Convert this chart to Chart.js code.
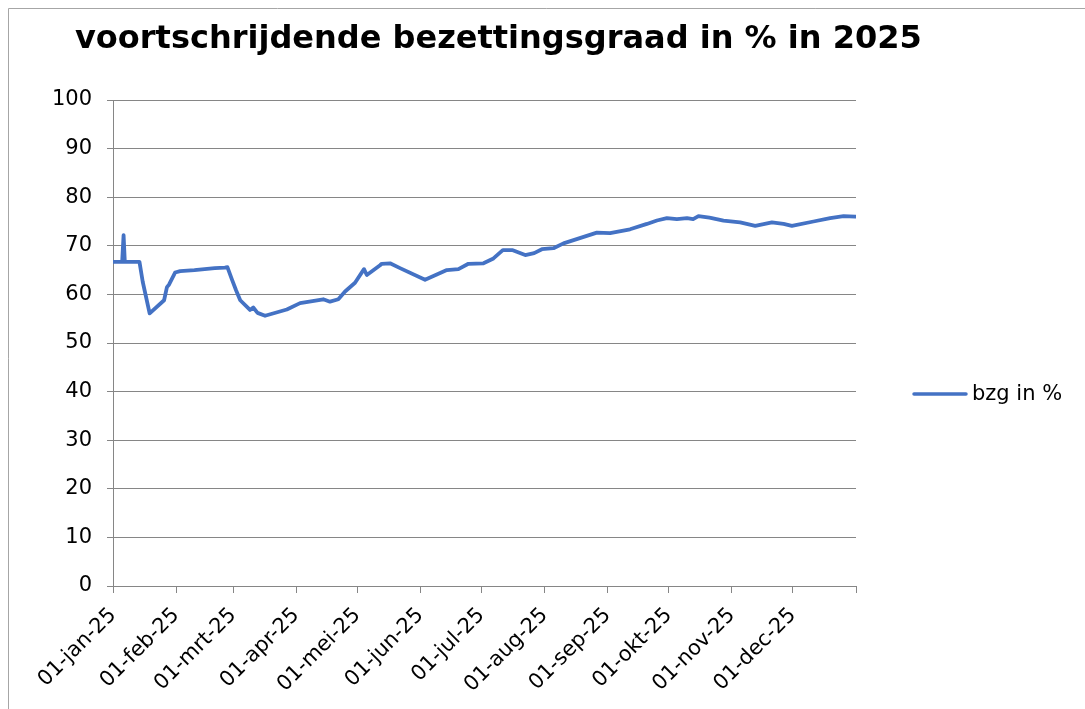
<!DOCTYPE html>
<html>
<head>
<meta charset="utf-8">
<script src="https://cdn.jsdelivr.net/npm/chart.js@4"></script>
<style>
html,body{margin:0;padding:0;background:#fff;}
#wrap{position:relative;width:1085px;height:709px;}
canvas{display:block;}
</style>
</head>
<body>
<div id="wrap"><canvas id="c" width="1085" height="709"></canvas></div>
<script>
const chartTitle = 'voortschrijdende bezettingsgraad in % in 2025';
const seriesLabel = 'bzg in %';
// day of year (0 = 1 Jan 2025)
const dayOfYear = [0,4.5,5.2,5.8,13,14.6,18,25.1,26.5,27.5,30.5,33,40,45,50,55,56.2,58.5,60.5,62.5,67.3,68.9,71,74.7,85.4,91.9,103.3,106.6,110.7,114,118.9,123.3,124.7,131.2,132,136.1,141,153.3,164,169.7,174.6,182,186.9,191.5,196.4,202.5,206.9,210.7,216.4,221.3,237.7,244.2,254,262.3,267.2,272.1,277,282,285,287.6,293,299.9,308.1,315.5,323.7,329.4,333.5,344.1,352.3,358.9,364.6];
const bzg = [66.7,66.7,72.2,66.7,66.7,62.6,56.1,58.8,61.5,62.0,64.5,64.8,65.0,65.2,65.4,65.5,65.6,63.0,60.8,58.8,56.8,57.3,56.2,55.6,56.9,58.2,59.0,58.5,59.0,60.6,62.4,65.2,64.0,66.0,66.3,66.4,65.4,63.0,65.0,65.2,66.3,66.4,67.4,69.1,69.1,68.1,68.5,69.3,69.5,70.5,72.7,72.6,73.4,74.5,75.2,75.7,75.5,75.7,75.5,76.1,75.8,75.2,74.8,74.1,74.8,74.5,74.1,75.0,75.7,76.1,76.0];
const monthStartDays = [0,31,59,90,120,151,181,212,243,273,304,334,365];
const monthLabels = ['01-jan-25','01-feb-25','01-mrt-25','01-apr-25','01-mei-25','01-jun-25','01-jul-25','01-aug-25','01-sep-25','01-okt-25','01-nov-25','01-dec-25',''];
const yTicks = [0,10,20,30,40,50,60,70,80,90,100];

const FONT = 'DejaVu Sans';
const LINE = '#4472C4';
const GRID = '#868686';

const decor = {
  id: 'decor',
  beforeDraw(chart) {
    const ctx = chart.ctx;
    ctx.save();
    ctx.fillStyle = '#fff';
    ctx.fillRect(0,0,chart.width,chart.height);
    ctx.strokeStyle = '#a6a6a6';
    ctx.lineWidth = 1;
    ctx.beginPath();
    ctx.moveTo(8.5, chart.height);
    ctx.lineTo(8.5, 8.5);
    ctx.lineTo(chart.width, 8.5);
    ctx.stroke();
    ctx.restore();
  },
  afterDraw(chart) {
    const ctx = chart.ctx;
    ctx.save();
    ctx.fillStyle = '#000';
    ctx.font = 'bold 32px "' + FONT + '"';
    ctx.textAlign = 'left';
    ctx.textBaseline = 'alphabetic';
    ctx.fillText(chartTitle, 75, 48);
    // legend
    const ly = 394;
    ctx.strokeStyle = LINE;
    ctx.lineWidth = 3.5;
    ctx.lineCap = 'round';
    ctx.beginPath();
    ctx.moveTo(914, ly);
    ctx.lineTo(966, ly);
    ctx.stroke();
    ctx.font = '21px "' + FONT + '"';
    ctx.textBaseline = 'middle';
    ctx.fillText(chart.data.datasets[0].label, 972, ly + 1);
    ctx.restore();
  }
};

new Chart(document.getElementById('c'), {
  type: 'line',
  data: {
    datasets: [{
      label: seriesLabel,
      data: dayOfYear.map((d,i) => ({x: d, y: bzg[i]})),
      borderColor: LINE,
      borderWidth: 3.8,
      pointRadius: 0,
      tension: 0,
      fill: false,
      borderJoinStyle: 'round',
      borderCapStyle: 'round'
    }]
  },
  options: {
    responsive: false,
    animation: false,
    devicePixelRatio: 1,
    layout: { padding: { top: 100, right: 229, left: 0, bottom: 0 } },
    plugins: { legend: { display: false }, title: { display: false }, tooltip: { enabled: false } },
    scales: {
      x: {
        type: 'linear',
        min: 0, max: 365,
        afterBuildTicks: s => { s.ticks = monthStartDays.map(v => ({value: v})); },
        afterFit: s => { s.height = 123; },
        ticks: {
          autoSkip: false,
          minRotation: 45, maxRotation: 45,
          color: '#000',
          font: { family: FONT, size: 21 },
          padding: 10,
          callback: (v) => { const i = monthStartDays.indexOf(v); return i >= 0 ? monthLabels[i] : ''; }
        },
        grid: { drawOnChartArea: false, drawTicks: true, tickLength: 7, color: GRID, lineWidth: 1 },
        border: { color: GRID, width: 1 }
      },
      y: {
        min: 0, max: 100,
        afterBuildTicks: s => { s.ticks = yTicks.map(v => ({value: v})); },
        afterFit: s => { s.width = 113; },
        ticks: {
          color: '#000',
          font: { family: FONT, size: 21 },
          padding: 15
        },
        grid: { color: GRID, lineWidth: 1, tickLength: 6, drawTicks: true },
        border: { color: GRID, width: 1 }
      }
    }
  },
  plugins: [decor]
});
</script>
</body>
</html>
